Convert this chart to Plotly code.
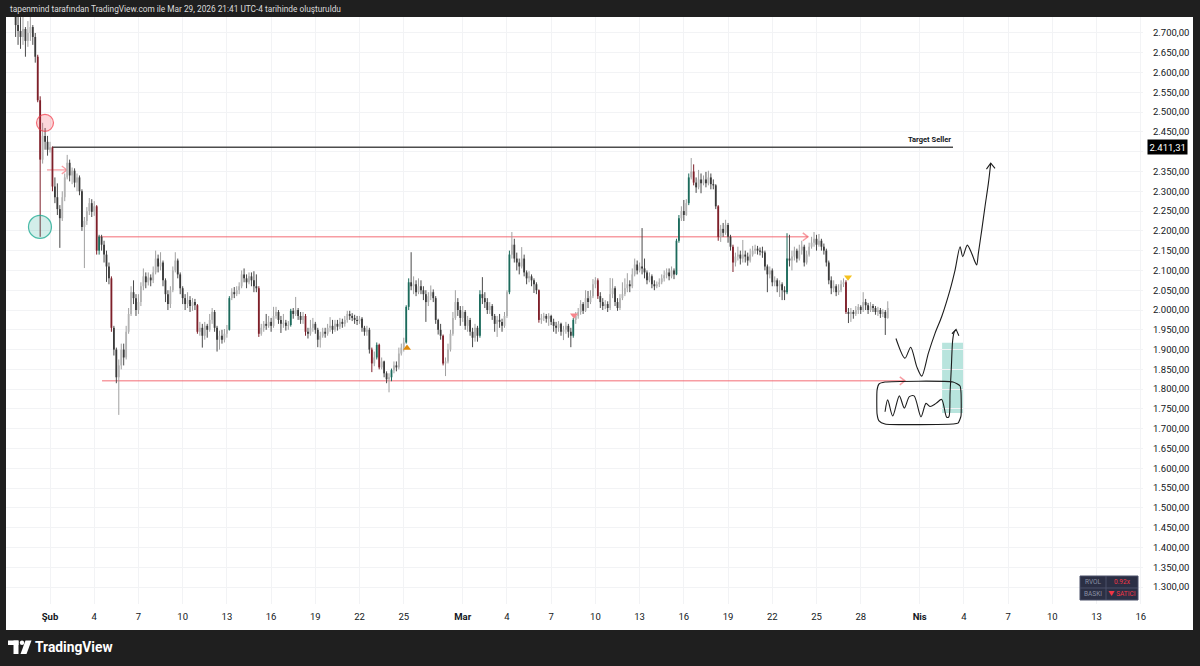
import pandas as pd
import plotly.graph_objects as go

# ---------------- DATA (4h candles, first bar 2026-01-29 16:00) ----------------
first_bar = "2026-01-29 16:00"
first_open = 2745

close = [
    2720, 2705,
    2690, 2710, 2680, 2700, 2715, 2690,  # Jan 30
    2640, 2530, 2380, 2440, 2425, 2405,  # Jan 31
    2411, 2312, 2285, 2255, 2232, 2285,  # Feb 1
    2335, 2372, 2340, 2352, 2322, 2335,  # Feb 2
    2300, 2210, 2225, 2250, 2270, 2248,  # Feb 3
    2262, 2150, 2185, 2165, 2140, 2110,  # Feb 4
    2080, 1955, 1900, 1830, 1860, 1900,  # Feb 5
    1880, 1945, 1990, 2045, 2030, 2000,  # Feb 6
    2020, 2060, 2085, 2070, 2082, 2075,  # Feb 7
    2095, 2130, 2110, 2120, 2075, 2040,  # Feb 8
    2015, 2050, 2100, 2125, 2090, 2055,  # Feb 9
    2030, 2015, 2025, 2010, 2020, 2012,  # Feb 10
    1945, 1955, 1935, 1960, 1950, 1975,  # Feb 11
    1995, 1955, 1925, 1935, 1925, 1940,  # Feb 12
    1950, 2030, 2045, 2040, 2050, 2060,  # Feb 13
    2090, 2080, 2070, 2085, 2075, 2060,  # Feb 14
    2055, 1940, 1955, 1965, 1960, 1970,  # Feb 15
    1960, 1985, 1995, 1975, 1965, 1968,  # Feb 16
    1960, 1962, 1998, 1990, 2000, 1985,  # Feb 17
    1975, 1985, 1945, 1940, 1955, 1965,  # Feb 18
    1950, 1925, 1935, 1945, 1940, 1955,  # Feb 19
    1960, 1950, 1965, 1958, 1970, 1965,  # Feb 20
    1975, 1990, 1985, 1980, 1975, 1972,  # Feb 21
    1978, 1955, 1945, 1950, 1900, 1865,  # Feb 22
    1880, 1912, 1855, 1870, 1840, 1825,  # Feb 23
    1830, 1848, 1860, 1855, 1890, 1905,  # Feb 24
    1918, 2008, 2070, 2060, 2065, 2045,  # Feb 25
    2060, 2050, 2040, 2020, 2035, 2045,  # Feb 26
    2030, 1975, 1950, 1935, 1865, 1870,  # Feb 27
    1900, 1940, 1980, 2020, 2000, 1980,  # Feb 28
    1995, 1960, 1975, 1945, 1930, 1955,  # Mar 1
    1935, 2040, 2030, 2020, 2000, 2010,  # Mar 2
    1985, 1965, 1975, 1970, 1960, 1985,  # Mar 3
    2045, 2140, 2165, 2130, 2120, 2110,  # Mar 4
    2130, 2095, 2080, 2085, 2075, 2065,  # Mar 5
    2050, 1975, 1980, 1985, 1978, 1985,  # Mar 6
    1970, 1960, 1955, 1965, 1945, 1950,  # Mar 7
    1960, 1945, 1935, 1975, 1985, 1995,  # Mar 8
    2015, 1998, 2030, 2020, 2035, 2065,  # Mar 9
    2075, 2035, 2020, 2010, 2015, 2005,  # Mar 10
    2040, 2055, 2020, 2005, 2030, 2040,  # Mar 11
    2055, 2065, 2060, 2090, 2115, 2100,  # Mar 12
    2110, 2105, 2095, 2075, 2085, 2065,  # Mar 13
    2060, 2065, 2070, 2080, 2088, 2095,  # Mar 14
    2085, 2100, 2090, 2175, 2232, 2250,  # Mar 15
    2240, 2270, 2335, 2350, 2322, 2310,  # Mar 16
    2330, 2320, 2330, 2320, 2335, 2318,  # Mar 17
    2315, 2262, 2185, 2205, 2195, 2215,  # Mar 18
    2185, 2160, 2120, 2135, 2140, 2130,  # Mar 19
    2140, 2135, 2125, 2140, 2150, 2155,  # Mar 20
    2150, 2148, 2145, 2110, 2090, 2100,  # Mar 21
    2070, 2075, 2060, 2065, 2050, 2045,  # Mar 22
    2130, 2125, 2135, 2150, 2130, 2150,  # Mar 23
    2160, 2120, 2140, 2160, 2170, 2180,  # Mar 24
    2165, 2175, 2160, 2150, 2120, 2075,  # Mar 25
    2055, 2060, 2045, 2050, 2065, 2070,  # Mar 26
    1995, 1990, 1995, 1990, 2000, 2008,  # Mar 27
    2000, 2020, 2012, 2000, 2010, 2005,  # Mar 28
    1995, 2000, 1990, 1995, 1980, 2005,  # Mar 29
]

high = [
    2780, 2745,
    2740, 2745, 2715, 2730, 2750, 2720,  # Jan 30
    2700, 2645, 2540, 2473, 2460, 2440,  # Jan 31
    2425, 2413, 2335, 2320, 2265, 2300,  # Feb 1
    2345, 2392, 2380, 2360, 2358, 2345,  # Feb 2
    2340, 2305, 2235, 2260, 2283, 2280,  # Feb 3
    2275, 2265, 2190, 2190, 2175, 2150,  # Feb 4
    2120, 2085, 1960, 1905, 1875, 1915,  # Feb 5
    1915, 1960, 2005, 2060, 2075, 2040,  # Feb 6
    2040, 2070, 2105, 2095, 2095, 2090,  # Feb 7
    2110, 2150, 2140, 2146, 2125, 2080,  # Feb 8
    2050, 2060, 2110, 2146, 2130, 2095,  # Feb 9
    2060, 2040, 2045, 2035, 2030, 2028,  # Feb 10
    2015, 1970, 1965, 1970, 1965, 1990,  # Feb 11
    2005, 2000, 1960, 1948, 1950, 1952,  # Feb 12
    1962, 2035, 2055, 2058, 2060, 2070,  # Feb 13
    2100, 2105, 2090, 2095, 2095, 2098,  # Feb 14
    2090, 2060, 1965, 1972, 1990, 1985,  # Feb 15
    1980, 2008, 2008, 2000, 1985, 1990,  # Feb 16
    1975, 1972, 2003, 2005, 2033, 2005,  # Feb 17
    1995, 1995, 1990, 1955, 1975, 1980,  # Feb 18
    1970, 1955, 1945, 1955, 1955, 1965,  # Feb 19
    1982, 1975, 1975, 1975, 1980, 1978,  # Feb 20
    1985, 1998, 1998, 1992, 1988, 1985,  # Feb 21
    1985, 1982, 1960, 1960, 1955, 1905,  # Feb 22
    1895, 1918, 1915, 1880, 1872, 1845,  # Feb 23
    1840, 1852, 1870, 1870, 1905, 1915,  # Feb 24
    1930, 2012, 2080, 2146, 2085, 2075,  # Feb 25
    2080, 2075, 2060, 2050, 2045, 2062,  # Feb 26
    2052, 2035, 1978, 1965, 1938, 1880,  # Feb 27
    1915, 1950, 1995, 2050, 2030, 2010,  # Feb 28
    2010, 2000, 1985, 1980, 1955, 1965,  # Mar 1
    1960, 2050, 2083, 2045, 2030, 2020,  # Mar 2
    2015, 1990, 1985, 1990, 1978, 1995,  # Mar 3
    2050, 2150, 2197, 2180, 2145, 2130,  # Mar 4
    2159, 2140, 2100, 2098, 2090, 2080,  # Mar 5
    2070, 2052, 1990, 1993, 1990, 1992,  # Mar 6
    1988, 1978, 1970, 1972, 1968, 1960,  # Mar 7
    1970, 1965, 1955, 1980, 1995, 2005,  # Mar 8
    2025, 2020, 2050, 2048, 2050, 2078,  # Mar 9
    2083, 2080, 2045, 2030, 2025, 2022,  # Mar 10
    2081, 2080, 2060, 2030, 2040, 2070,  # Mar 11
    2080, 2093, 2075, 2105, 2130, 2125,  # Mar 12
    2120, 2207, 2130, 2100, 2095, 2090,  # Mar 13
    2075, 2072, 2080, 2090, 2100, 2105,  # Mar 14
    2105, 2110, 2105, 2180, 2240, 2262,  # Mar 15
    2278, 2280, 2345, 2384, 2368, 2335,  # Mar 16
    2354, 2345, 2340, 2349, 2352, 2345,  # Mar 17
    2330, 2318, 2265, 2215, 2220, 2228,  # Mar 18
    2220, 2190, 2165, 2145, 2160, 2150,  # Mar 19
    2177, 2150, 2145, 2155, 2162, 2165,  # Mar 20
    2162, 2158, 2160, 2150, 2115, 2110,  # Mar 21
    2105, 2085, 2080, 2075, 2070, 2060,  # Mar 22
    2194, 2190, 2150, 2160, 2155, 2165,  # Mar 23
    2175, 2165, 2150, 2170, 2185, 2197,  # Mar 24
    2190, 2192, 2180, 2168, 2155, 2125,  # Mar 25
    2085, 2075, 2065, 2065, 2075, 2080,  # Mar 26
    2075, 2005, 2005, 2000, 2010, 2015,  # Mar 27
    2012, 2045, 2028, 2018, 2020, 2015,  # Mar 28
    2010, 2008, 2005, 2002, 2000, 2022,  # Mar 29
]

low = [
    2690, 2670,
    2660, 2670, 2640, 2665, 2680, 2670,  # Jan 30
    2625, 2525, 2185, 2370, 2405, 2390,  # Jan 31
    2398, 2300, 2270, 2240, 2157, 2225,  # Feb 1
    2275, 2330, 2325, 2318, 2310, 2300,  # Feb 2
    2290, 2200, 2106, 2215, 2240, 2235,  # Feb 3
    2238, 2140, 2140, 2150, 2120, 2071,  # Feb 4
    2065, 1945, 1885, 1815, 1735, 1850,  # Feb 5
    1860, 1875, 1940, 1985, 2015, 1985,  # Feb 6
    1990, 2010, 2050, 2055, 2062, 2060,  # Feb 7
    2068, 2090, 2095, 2100, 2060, 2020,  # Feb 8
    2000, 2005, 2045, 2095, 2080, 2040,  # Feb 9
    2015, 2000, 2005, 1995, 1998, 2000,  # Feb 10
    1940, 1935, 1905, 1925, 1930, 1945,  # Feb 11
    1965, 1945, 1895, 1900, 1915, 1918,  # Feb 12
    1930, 1948, 2025, 2030, 2035, 2040,  # Feb 13
    2055, 2070, 2055, 2065, 2060, 2045,  # Feb 14
    2045, 1932, 1935, 1945, 1950, 1955,  # Feb 15
    1945, 1955, 1978, 1965, 1942, 1955,  # Feb 16
    1948, 1950, 1958, 1978, 1985, 1975,  # Feb 17
    1965, 1965, 1935, 1928, 1935, 1945,  # Feb 18
    1940, 1906, 1905, 1930, 1930, 1935,  # Feb 19
    1945, 1940, 1945, 1948, 1952, 1955,  # Feb 20
    1958, 1968, 1975, 1972, 1965, 1962,  # Feb 21
    1965, 1945, 1935, 1935, 1890, 1843,  # Feb 22
    1858, 1875, 1850, 1850, 1830, 1815,  # Feb 23
    1792, 1820, 1840, 1845, 1850, 1885,  # Feb 24
    1895, 1915, 2000, 2050, 2040, 2035,  # Feb 25
    2040, 2040, 2025, 1970, 2010, 2025,  # Feb 26
    2020, 1965, 1938, 1925, 1860, 1833,  # Feb 27
    1865, 1895, 1935, 1975, 1985, 1960,  # Feb 28
    1970, 1950, 1945, 1935, 1906, 1920,  # Mar 1
    1920, 1930, 2015, 2005, 1990, 1990,  # Mar 2
    1975, 1945, 1932, 1955, 1945, 1955,  # Mar 3
    1980, 2040, 2130, 2120, 2100, 2090,  # Mar 4
    2105, 2085, 2065, 2070, 2060, 2043,  # Mar 5
    2040, 1968, 1965, 1972, 1968, 1960,  # Mar 6
    1962, 1945, 1940, 1945, 1935, 1924,  # Mar 7
    1940, 1930, 1906, 1930, 1965, 1978,  # Mar 8
    1988, 1990, 1995, 2005, 2015, 2030,  # Mar 9
    2055, 2028, 2005, 2000, 2002, 1995,  # Mar 10
    2000, 2030, 2010, 1998, 2000, 2025,  # Mar 11
    2035, 2045, 2045, 2055, 2085, 2090,  # Mar 12
    2095, 2090, 2080, 2065, 2070, 2055,  # Mar 13
    2050, 2055, 2058, 2065, 2072, 2080,  # Mar 14
    2075, 2080, 2078, 2088, 2170, 2225,  # Mar 15
    2225, 2238, 2265, 2330, 2315, 2296,  # Mar 16
    2305, 2295, 2315, 2310, 2315, 2305,  # Mar 17
    2305, 2255, 2175, 2172, 2185, 2190,  # Mar 18
    2170, 2150, 2096, 2110, 2125, 2115,  # Mar 19
    2120, 2120, 2112, 2120, 2135, 2142,  # Mar 20
    2140, 2138, 2132, 2100, 2045, 2080,  # Mar 21
    2060, 2060, 2045, 2033, 2025, 2025,  # Mar 22
    2040, 2110, 2100, 2125, 2120, 2125,  # Mar 23
    2140, 2110, 2115, 2135, 2155, 2160,  # Mar 24
    2150, 2160, 2150, 2140, 2110, 2065,  # Mar 25
    2040, 2045, 2035, 2038, 2045, 2058,  # Mar 26
    1990, 1967, 1970, 1978, 1985, 1990,  # Mar 27
    1990, 1995, 2000, 1990, 1995, 1995,  # Mar 28
    1988, 1985, 1980, 1982, 1937, 1978,  # Mar 29
]

# candles the indicator paints red / teal (bar indices)
red_candles = [9, 10, 15, 33, 39, 74, 99, 118, 145, 148, 174, 213, 237, 276, 286, 292, 338]
teal_candles = [34, 87, 112, 147, 153, 159, 160, 189, 201, 227, 269, 270, 274, 314]

# x-axis ticks (days after 1 Feb 2026) and labels
tick_days = [0, 3, 6, 9, 12, 15, 18, 21, 24, 28, 31, 34, 37, 40, 43, 46, 49, 52, 55, 59, 62, 65, 68, 71, 74]
tick_text = ["<b>Şub</b>", "4", "7", "10", "13", "16", "19", "22", "25", "<b>Mar</b>", "4", "7", "10",
             "13", "16", "19", "22", "25", "28", "<b>Nis</b>", "4", "7", "10", "13", "16"]
price_ticks = list(range(1300, 2701, 50))
covered_tick = 2400  # hidden under the 2.411,31 price tag

# drawings (days after 1 Feb 2026, price)
target_seller = 2411.31
target_line_days = [0.14, 61.26]
resist_price, resist_days = 2185, [3.26, 51.42]
support_price, support_days = 1821, [3.53, 58.0]
small_arrow_price, small_arrow_days = 2354, [-0.2, 1.15]

path_days = [57.39, 58.00, 58.39, 58.80, 59.14, 59.59, 60.04, 60.49, 61.06, 61.40, 61.74, 61.92,
             62.23, 62.53, 62.75, 62.87, 62.98, 63.21, 63.43, 63.66, 63.82]
path_prices = [1928, 1878, 1906, 1857, 1833, 1891, 1941, 1983, 2051, 2101, 2160, 2135,
               2164, 2143, 2122, 2114, 2143, 2202, 2261, 2320, 2371]
path_head_days = [63.53, 63.82, 64.11]
path_head_prices = [2356, 2371, 2358]

wave_days = [56.65, 56.83, 57.17, 57.62, 57.96, 58.30, 58.62, 59.09, 59.43, 59.70, 60.11, 60.49,
             60.83, 60.98, 61.06, 61.15, 61.24, 61.35, 61.46]
wave_prices = [1743, 1773, 1732, 1783, 1752, 1781, 1783, 1730, 1764, 1756, 1764, 1774,
               1729, 1730, 1790, 1857, 1924, 1945, 1950]
wave_head_days = [61.19, 61.47, 61.66]
wave_head_prices = [1940, 1951, 1935]

box_days = [56.65, 61.26, 61.74, 61.80, 61.80, 61.60, 61.26, 56.65, 56.24, 56.11, 56.11, 56.24, 56.65]
box_prices = [1818, 1818, 1808, 1793, 1732, 1714, 1712, 1712, 1720, 1737, 1798, 1813, 1818]

zone_days, zone_prices = [60.52, 62.01], [1740, 1917]

red_circle = (-0.34, 2473)
teal_circle = (-0.68, 2210)
sell_tri_pink = (35.55, 1987)
buy_tri_orange = (24.22, 1904)
sell_tri_yellow = (54.14, 2083)

# ---------------- BUILD ----------------
base = pd.Timestamp("2026-02-01")


def at(day):
    return (base + pd.Timedelta(days=float(day))).strftime("%Y-%m-%d %H:%M:%S")


def fmt_price(v):
    return f"{v:,.2f}".replace(",", "X").replace(".", ",").replace("X", ".")


times = [t.strftime("%Y-%m-%d %H:%M:%S") for t in pd.date_range(first_bar, periods=len(close), freq="4h")]
opens = [first_open] + close[:-1]

red_set, teal_set = set(red_candles), set(teal_candles)
groups = {"up": [], "down": [], "red": [], "teal": []}
for i, (o, c) in enumerate(zip(opens, close)):
    if i in red_set:
        g = "red"
    elif i in teal_set:
        g = "teal"
    elif c >= o:
        g = "up"
    else:
        g = "down"
    groups[g].append(i)

style = {
    "up": ("#b3b3b3", "#a0a0a0"),
    "down": ("#3a3a3a", "#4a4a4a"),
    "red": ("#7e1f29", "#7e1f29"),
    "teal": ("#1c6b5c", "#1c6b5c"),
}

fig = go.Figure()

PINK = "rgba(242,92,102,0.6)"
DX, DP = 0.35, 10  # chevron size (days, price)


def hline(days, price, color, width, chevron):
    fig.add_trace(go.Scatter(x=[at(days[0]), at(days[1])], y=[price, price], mode="lines",
                             line=dict(color=color, width=width), hoverinfo="skip"))
    if chevron:
        d = days[1]
        fig.add_trace(go.Scatter(x=[at(d - DX), at(d), at(d - DX)], y=[price + DP, price, price - DP],
                                 mode="lines", line=dict(color=color, width=width), hoverinfo="skip"))


hline(target_line_days, target_seller, "#4d4d4d", 1.5, False)
hline(resist_days, resist_price, PINK, 1.5, True)
hline(support_days, support_price, PINK, 1.5, True)
hline(small_arrow_days, small_arrow_price, PINK, 1.3, True)

for g in ["up", "down", "red", "teal"]:
    body_col, wick_col = style[g]
    wx, wy, bx, by = [], [], [], []
    for i in groups[g]:
        o, c = opens[i], close[i]
        h = max(high[i], o, c)
        l = min(low[i], o, c)
        t = times[i]
        wx += [t, t, None]
        wy += [l, h, None]
        lo, hi = min(o, c), max(o, c)
        if hi - lo < 3:
            mid = (hi + lo) / 2
            lo, hi = mid - 1.5, mid + 1.5
        bx += [t, t, None]
        by += [lo, hi, None]
    fig.add_trace(go.Scatter(x=wx, y=wy, mode="lines", line=dict(color=wick_col, width=1),
                             hoverinfo="skip", connectgaps=False))
    fig.add_trace(go.Scatter(x=bx, y=by, mode="lines", line=dict(color=body_col, width=1.8),
                             hoverinfo="skip", connectgaps=False))

# teal zone
fig.add_shape(type="rect", xref="x", yref="y", x0=at(zone_days[0]), x1=at(zone_days[1]),
              y0=zone_prices[0], y1=zone_prices[1], fillcolor="rgba(34,171,148,0.32)",
              line=dict(width=0), layer="below")

INK = "#1c1c1c"
fig.add_trace(go.Scatter(x=[at(d) for d in path_days], y=path_prices, mode="lines",
                         line=dict(color=INK, width=1.1, shape="spline", smoothing=0.8), hoverinfo="skip"))
fig.add_trace(go.Scatter(x=[at(d) for d in path_head_days], y=path_head_prices, mode="lines",
                         line=dict(color=INK, width=1.1), hoverinfo="skip"))
fig.add_trace(go.Scatter(x=[at(d) for d in wave_days], y=wave_prices, mode="lines",
                         line=dict(color=INK, width=1.1, shape="spline", smoothing=0.8), hoverinfo="skip"))
fig.add_trace(go.Scatter(x=[at(d) for d in wave_head_days], y=wave_head_prices, mode="lines",
                         line=dict(color=INK, width=1.1), hoverinfo="skip"))
fig.add_trace(go.Scatter(x=[at(d) for d in box_days], y=box_prices, mode="lines",
                         line=dict(color=INK, width=1.1, shape="spline", smoothing=0.5), hoverinfo="skip"))

# circles and triangles
fig.add_trace(go.Scatter(x=[at(red_circle[0])], y=[red_circle[1]], mode="markers",
                         marker=dict(size=17, color="rgba(242,54,69,0.2)",
                                     line=dict(color="rgba(242,54,69,0.7)", width=1.2)), hoverinfo="skip"))
fig.add_trace(go.Scatter(x=[at(teal_circle[0])], y=[teal_circle[1]], mode="markers",
                         marker=dict(size=23, color="rgba(34,171,148,0.2)",
                                     line=dict(color="rgba(34,171,148,0.8)", width=1.2)), hoverinfo="skip"))
fig.add_trace(go.Scatter(x=[at(sell_tri_pink[0])], y=[sell_tri_pink[1]], mode="markers",
                         marker=dict(symbol="triangle-down", size=7, color="#f7858c"), hoverinfo="skip"))
fig.add_trace(go.Scatter(x=[at(buy_tri_orange[0])], y=[buy_tri_orange[1]], mode="markers",
                         marker=dict(symbol="triangle-up", size=7, color="#e08a0b"), hoverinfo="skip"))
fig.add_trace(go.Scatter(x=[at(sell_tri_yellow[0])], y=[sell_tri_yellow[1]], mode="markers",
                         marker=dict(symbol="triangle-down", size=7, color="#f5c21f"), hoverinfo="skip"))

# ---------------- LAYOUT ----------------
L, R, T, B, W, H = 6, 57, 17, 62, 1200, 666
PW, PH = W - L - R, H - T - B


def px(x):
    return (x - L) / PW


def py(y):
    return (T + PH - y) / PH


FONT = "Roboto, Inter, sans-serif"
fig.update_layout(
    width=W, height=H, margin=dict(l=L, r=R, t=T, b=B),
    paper_bgcolor="white", plot_bgcolor="white", showlegend=False,
    font=dict(family=FONT, size=10, color="#131722"),
    xaxis=dict(type="date", range=[at(-2.985), at(74.15)],
               tickvals=[at(d) for d in tick_days], ticktext=tick_text, tickangle=0,
               showgrid=True, gridcolor="#f2f3f5", gridwidth=1, zeroline=False, showline=False,
               ticks="", ticklabelstandoff=5, tickfont=dict(size=9.5, color="#131722")),
    yaxis=dict(side="right", range=[1257.1, 2740.4], tickvals=price_ticks,
               ticktext=["" if v == covered_tick else fmt_price(v) for v in price_ticks],
               showgrid=True, gridcolor="#f2f3f5", gridwidth=1, zeroline=False, showline=False,
               ticks="", ticklabelstandoff=9, tickfont=dict(size=9.5, color="#131722")),
)

DARK = "#1f1f1f"
for x0, x1, y0, y1 in [(0, W, 0, T), (0, L, 0, H), (1193, W, 0, H), (0, W, 630, H)]:
    fig.add_shape(type="rect", xref="paper", yref="paper", x0=px(x0), x1=px(x1), y0=py(y1), y1=py(y0),
                  fillcolor=DARK, line=dict(width=0), layer="above")

# header and footer
fig.add_annotation(xref="paper", yref="paper", x=px(8), y=py(9), xanchor="left", yanchor="middle",
                   text="tapenmind tarafından TradingView.com ile Mar 29, 2026 21:41 UTC-4 tarihinde oluşturuldu",
                   showarrow=False, font=dict(family=FONT, size=8.3, color="#dcdcdc"))
fig.add_annotation(xref="paper", yref="paper", x=px(33), y=py(647), xanchor="left", yanchor="middle",
                   text="<b>TradingView</b>", showarrow=False, font=dict(family=FONT, size=13.8, color="white"))
# logo mark
fig.add_shape(type="rect", xref="paper", yref="paper", x0=px(8), x1=px(18.5), y0=py(645), y1=py(640.5),
              fillcolor="white", line=dict(width=0), layer="above")
fig.add_shape(type="rect", xref="paper", yref="paper", x0=px(13.5), x1=px(18.5), y0=py(654), y1=py(640.5),
              fillcolor="white", line=dict(width=0), layer="above")
fig.add_shape(type="circle", xref="paper", yref="paper", x0=px(19.8), x1=px(24.2), y0=py(645), y1=py(640.6),
              fillcolor="white", line=dict(width=0), layer="above")
fig.add_shape(type="path", xref="paper", yref="paper",
              path=f"M {px(25.5)},{py(640.5)} L {px(31.5)},{py(640.5)} L {px(26.5)},{py(654)} L {px(20.5)},{py(654)} Z",
              fillcolor="white", line=dict(width=0), layer="above")

# target seller label and price tag
fig.add_annotation(x=at(target_line_days[1]), y=target_seller, xanchor="right", yanchor="bottom", yshift=1,
                   text="<b>Target Seller</b>", showarrow=False, font=dict(family=FONT, size=7.5, color="#131722"))
fig.add_annotation(xref="paper", yref="y", x=px(1147), y=target_seller, xanchor="left", yanchor="middle",
                   text=fmt_price(target_seller), showarrow=False, bgcolor="#000000", borderpad=1.5,
                   font=dict(family=FONT, size=9.5, color="white"))

# RVOL table
fig.add_shape(type="rect", xref="paper", yref="paper", x0=px(1080), x1=px(1138), y0=py(600), y1=py(576),
              fillcolor="#2b2f44", line=dict(color="#4b5068", width=1), layer="above")
fig.add_shape(type="line", xref="paper", yref="paper", x0=px(1080), x1=px(1138), y0=py(588), y1=py(588),
              line=dict(color="#4b5068", width=1), layer="above")
fig.add_shape(type="line", xref="paper", yref="paper", x0=px(1106), x1=px(1106), y0=py(600), y1=py(576),
              line=dict(color="#4b5068", width=1), layer="above")
for txt, x, y, col in [("RVOL", 1093, 582, "#8a8fa3"), ("0.92x", 1122, 582, "#f23645"),
                       ("BASKI", 1093, 594, "#8a8fa3"), ("▼ SATICI", 1122, 594, "#f23645")]:
    fig.add_annotation(xref="paper", yref="paper", x=px(x), y=py(y), xanchor="center", yanchor="middle",
                       text=txt, showarrow=False, font=dict(family=FONT, size=6.5, color=col))

fig.write_html("out.html")
